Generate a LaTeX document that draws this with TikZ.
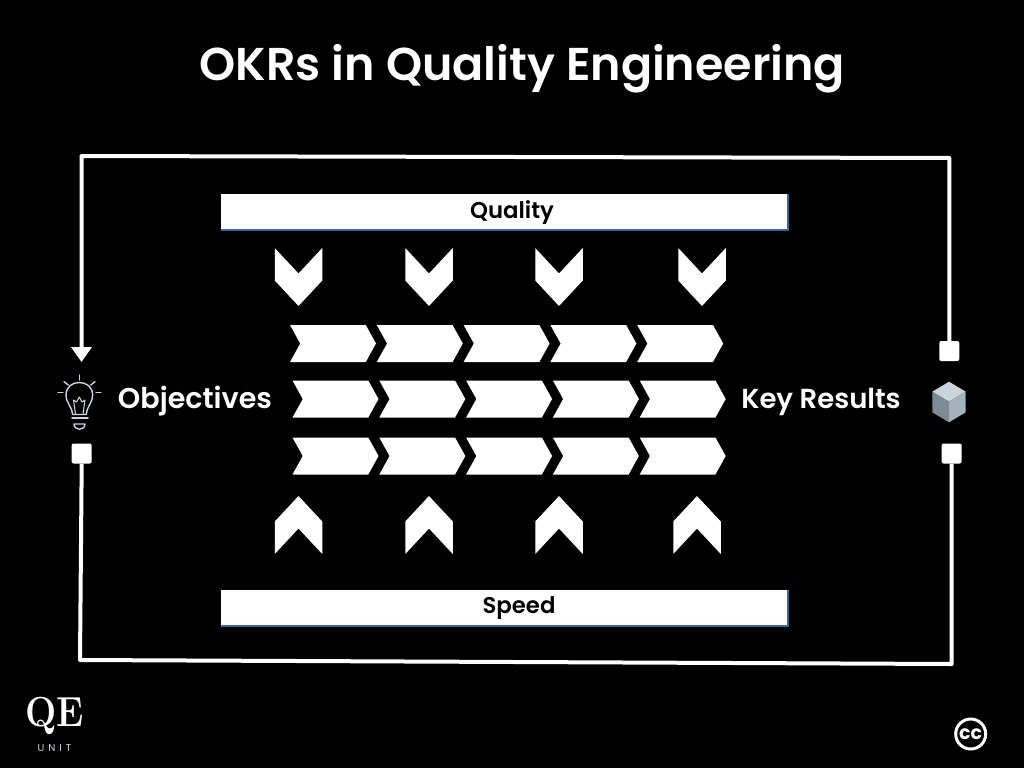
\documentclass[tikz,border=0pt]{standalone}
\usepackage{fontspec}
\setsansfont{Poppins}
\newfontfamily\mediumfont{Poppins SemiBold}
\usepackage{tikz}
\usetikzlibrary{arrows.meta,shapes.symbols}
\definecolor{Ink}{HTML}{000000}
\definecolor{BarEdge}{HTML}{3A62A8}
\definecolor{Lamp}{HTML}{CDD5DC}
\definecolor{CubeTop}{HTML}{CBD3DB}
\definecolor{CubeLeft}{HTML}{7D8B95}
\definecolor{CubeRight}{HTML}{A5B1BB}
\newcommand{\pxfont}[1]{\fontsize{#1}{#1}\selectfont}

\begin{document}
\begin{tikzpicture}[x=1pt,y=-1pt,
      heading/.style={text=white,font=\mediumfont\pxfont{46},inner sep=0pt},
      sidelabel/.style={text=white,font=\mediumfont\pxfont{27.5},inner sep=0pt},
      barlabel/.style={text=black,font=\mediumfont\pxfont{22.8},inner sep=0pt},
      bar/.style={fill=white,minimum width=567pt,minimum height=36pt,inner sep=0pt},
      baredge/.style={draw=BarEdge,line width=1.5pt},
      chevron/.style={fill=white,shape=signal,signal from=west,signal to=east,
        signal pointer angle=122,minimum width=86pt,minimum height=37pt,inner sep=0pt},
      downhead/.style={fill=white,shape=signal,signal from=north,signal to=south,
        signal pointer angle=86,minimum width=47.5pt,minimum height=7pt,inner sep=0pt},
      uphead/.style={fill=white,shape=signal,signal from=south,signal to=north,
        signal pointer angle=86,minimum width=47.5pt,minimum height=7pt,inner sep=0pt},
      stub/.style={fill=white,rounded corners=2pt,minimum size=20pt,inner sep=0pt},
      loopline/.style={draw=white,line width=4pt,line join=round},
      arr/.style={loopline,-{Triangle[length=15pt,width=20pt]}},
      lampline/.style={draw=Lamp,line width=1.4pt,line cap=round,line join=round}]
  \fill[Ink] (0,0) rectangle (1024,768);
  \node[heading] (title) at (522.5,68.5) {OKRs in Quality Engineering};

  \node[bar] (quality) at (504.5,212) {};
  \draw[baredge] (quality.south west) -- (quality.south east) -- (quality.north east);
  \node[barlabel] (qualitytext) at (512,212.5) {Quality};
  \node[bar] (speed) at (504.5,608) {};
  \draw[baredge] (speed.south west) -- (speed.south east) -- (speed.north east);
  \node[barlabel] (speedtext) at (519,608.5) {Speed};

  \foreach \col/\xa/\xb in {1/298.5/298.5,2/429/429,3/559/559,4/702/697}{
    \node[downhead] (down\col) at (\xa,277) {};
    \node[uphead] (up\col) at (\xb,525) {};
  }
  \foreach \col in {0,...,4}{
    \node[chevron] (rowa\col) at ({333+86.8*\col},343.5) {};
    \node[chevron] (rowb\col) at ({335.5+86.8*\col},399) {};
    \node[chevron] (rowc\col) at ({335.5+86.8*\col},456) {};
  }

  \node[sidelabel,font=\mediumfont\pxfont{28.6}] (objectives) at (195,401) {Objectives};
  \node[sidelabel] (keyresults) at (821,401.5) {Key Results};

  \node[stub] (stubleft) at (81.7,453.5) {};
  \node[stub] (stubtop) at (949.3,351) {};
  \node[stub] (stubbottom) at (951.7,453.5) {};
  \coordinate (bulbtop) at (81.5,362);
  \coordinate (cornertl) at (81.5,156);
  \coordinate (cornertr) at (949.3,158);
  \coordinate (cornerbl) at (80,660);
  \coordinate (cornerbr) at (951.7,664);
  \draw[arr] (stubtop.north) -- (cornertr) -- (cornertl) -- (bulbtop);
  \draw[loopline] (stubleft.south) -- (cornerbl) -- (cornerbr) -- (stubbottom.south);

  \draw[lampline] (79.3,375) -- (79.3,380);
  \draw[lampline] (58,392.7) -- (63,392.7);
  \draw[lampline] (96,392.7) -- (101,392.7);
  \draw[lampline] (64,381.7) -- (68.3,385);
  \draw[lampline] (95,381.7) -- (90.7,385);
  \draw[lampline] (72.5,414.5) .. controls (72,406) and (66,403) .. (66,395)
    .. controls (66,387) and (72,382.5) .. (79.3,382.5)
    .. controls (86.6,382.5) and (92.6,387) .. (92.6,395)
    .. controls (92.6,403) and (87,406) .. (86.3,414.5) -- cycle;
  \draw[lampline,line width=1pt] (75.5,414) -- (73.5,400) -- (76.5,402) -- (79.3,397) -- (82,402) -- (85,400) -- (83,414);
  \draw[lampline] (72,418) -- (88,418);
  \draw[lampline] (74,424) -- (85,424) .. controls (85,431) and (74,431) .. (74,424) -- cycle;

  \fill[CubeTop] (949,381.7) -- (965.7,391.7) -- (949,401.7) -- (932.3,391.7) -- cycle;
  \fill[CubeLeft] (932.3,391.7) -- (949,401.7) -- (949,422.3) -- (932.3,412.3) -- cycle;
  \fill[CubeRight] (965.7,391.7) -- (949,401.7) -- (949,422.3) -- (965.7,412.3) -- cycle;

  \node[text=white,font=\rmfamily\bfseries\pxfont{42},inner sep=0pt,xscale=0.88,transform shape] (logo) at (54.5,716) {QE};
  \node[text=Lamp,font=\sffamily\pxfont{10},inner sep=0pt] (logounit) at (54.5,748) {U\hspace{4pt}N\hspace{4pt}I\hspace{4pt}T};
  \node[draw=white,line width=3pt,shape=circle,minimum size=30pt,inner sep=0pt,
    text=white,font=\sffamily\bfseries\pxfont{19}] (cc) at (970.7,734) {cc};
\end{tikzpicture}
\end{document}
